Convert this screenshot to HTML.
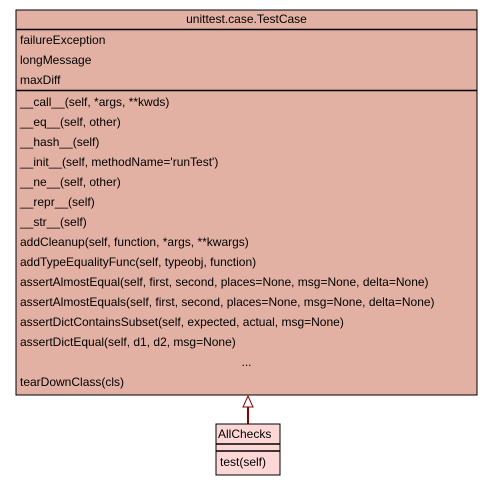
<!DOCTYPE html>
<html><head><style>
body{margin:0;background:#fff;width:493px;height:485px;overflow:hidden}
svg text{font-family:"Liberation Sans",sans-serif;font-size:12px;fill:#000}
</style></head><body>
<svg width="493" height="485" xmlns="http://www.w3.org/2000/svg">
<rect x="16" y="10" width="461" height="385" fill="#e3b1a3" stroke="#000" stroke-width="1"/>
<line x1="16" y1="29.5" x2="477" y2="29.5" stroke="#000" stroke-width="1.5"/>
<line x1="16" y1="90.5" x2="477" y2="90.5" stroke="#000" stroke-width="1.5"/>
<text x="246.5" y="23" text-anchor="middle">unittest.case.TestCase</text>
<text x="20" y="44">failureException</text>
<text x="20" y="64">longMessage</text>
<text x="20" y="84">maxDiff</text>
<text x="20" y="106">__call__(self, *args, **kwds)</text>
<text x="20" y="126">__eq__(self, other)</text>
<text x="20" y="146">__hash__(self)</text>
<text x="20" y="166">__init__(self, methodName='runTest')</text>
<text x="20" y="186">__ne__(self, other)</text>
<text x="20" y="206">__repr__(self)</text>
<text x="20" y="226">__str__(self)</text>
<text x="20" y="246">addCleanup(self, function, *args, **kwargs)</text>
<text x="20" y="266">addTypeEqualityFunc(self, typeobj, function)</text>
<text x="20" y="286">assertAlmostEqual(self, first, second, places=None, msg=None, delta=None)</text>
<text x="20" y="306">assertAlmostEquals(self, first, second, places=None, msg=None, delta=None)</text>
<text x="20" y="326">assertDictContainsSubset(self, expected, actual, msg=None)</text>
<text x="20" y="346">assertDictEqual(self, d1, d2, msg=None)</text>
<text x="246.5" y="366" text-anchor="middle">...</text>
<text x="20" y="386">tearDownClass(cls)</text>
<line x1="248" y1="407" x2="248" y2="424" stroke="#8b0000" stroke-width="2"/>
<polygon points="248,396 243,407 253,407" fill="#fff" stroke="#8b0000" stroke-width="1"/>
<rect x="216" y="424" width="64" height="51" fill="#fdd6d6" stroke="#000" stroke-width="1"/>
<line x1="216" y1="444" x2="280" y2="444" stroke="#000" stroke-width="1.5"/>
<line x1="216" y1="451" x2="280" y2="451" stroke="#000" stroke-width="1.5"/>
<text x="218" y="438">AllChecks</text>
<text x="220" y="466">test(self)</text>
</svg>
</body></html>
